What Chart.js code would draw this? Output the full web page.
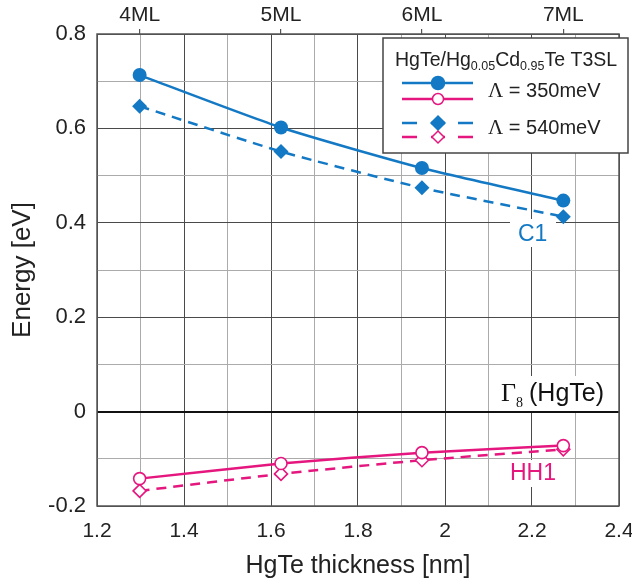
<!DOCTYPE html>
<html>
<head>
<meta charset="utf-8">
<script src="https://cdn.jsdelivr.net/npm/chart.js@4.4.1/dist/chart.umd.min.js"></script>
<style>
  html, body { margin: 0; padding: 0; background: #fff; }
  #wrap { width: 632px; height: 586px; }
</style>
</head>
<body>
<div id="wrap"><canvas id="chart" width="632" height="586"></canvas></div>
<script>
// HgTe layer thickness (nm) and matching monolayer labels on the top axis
const thicknessNm = [1.298, 1.623, 1.947, 2.272];
const mlLabels = ["4ML", "5ML", "6ML", "7ML"];

// subband energies (eV)
const c1Lambda350 = [0.713, 0.602, 0.516, 0.447];
const c1Lambda540 = [0.647, 0.551, 0.474, 0.413];
const hh1Lambda350 = [-0.142, -0.110, -0.087, -0.072];
const hh1Lambda540 = [-0.168, -0.132, -0.103, -0.080];

const BLUE = "#1479c4";
const PINK = "#e5177f";
const SANS = "'Liberation Sans', Arial, sans-serif";
const SERIF = "'Liberation Serif', 'Times New Roman', serif";

const pts = (ys) => thicknessNm.map((x, i) => ({ x: x, y: ys[i] }));

function gridStyle(step) {
  return {
    color: (c) => {
      const k = Math.round(c.tick.value / step);
      if (Math.abs(c.tick.value) < 1e-9) return "#111";
      return k % 2 === 0 ? "#4a4a4a" : "#ababab";
    },
    lineWidth: (c) => (Math.abs(c.tick.value) < 1e-9 ? 2 : 1),
  };
}

// draws a run of text pieces [text, font, dy] left to right
function drawRun(ctx, x, y, parts) {
  parts.forEach(([t, font, dy]) => {
    ctx.font = font;
    ctx.fillText(t, x, y + (dy || 0));
    x += ctx.measureText(t).width;
  });
  return x;
}

const annotations = {
  id: "annotations",
  beforeDatasetsDraw(chart) {
    const { ctx, chartArea: a } = chart;
    ctx.save();
    // plot frame
    ctx.strokeStyle = "#555";
    ctx.lineWidth = 1.5;
    ctx.strokeRect(a.left, a.top, a.right - a.left, a.bottom - a.top);

    ctx.textBaseline = "alphabetic";
    // C1
    ctx.fillStyle = "#fff";
    ctx.fillRect(510, 219, 46, 28);
    ctx.fillStyle = BLUE;
    ctx.font = "23px " + SANS;
    ctx.fillText("C1", 518, 241);
    // HH1
    ctx.fillStyle = "#fff";
    ctx.fillRect(505, 460, 58, 27);
    ctx.fillStyle = PINK;
    ctx.fillText("HH1", 510, 480);
    // Gamma8 (HgTe)
    ctx.fillStyle = "#fff";
    ctx.fillRect(497, 376, 117, 35);
    ctx.fillStyle = "#111";
    ctx.font = "26px " + SERIF;
    ctx.fillText("\u0393", 501, 401);
    ctx.font = "14px " + SERIF;
    ctx.fillText("8", 516, 407);
    ctx.font = "25px " + SANS;
    ctx.fillText("(HgTe)", 529, 401);
    ctx.restore();
  },
  afterDraw(chart) {
    const ctx = chart.ctx;
    ctx.save();
    // legend box
    ctx.fillStyle = "#fff";
    ctx.fillRect(383, 38, 245, 115);
    ctx.strokeStyle = "#444";
    ctx.lineWidth = 1.5;
    ctx.strokeRect(383, 38, 245, 115);

    ctx.fillStyle = "#222";
    ctx.textBaseline = "alphabetic";
    drawRun(ctx, 395, 66, [
      ["HgTe/Hg", "19.5px " + SANS, 0],
      ["0.05", "12.5px " + SANS, 4],
      ["Cd", "19.5px " + SANS, 0],
      ["0.95", "12.5px " + SANS, 4],
      ["Te T3SL", "19.5px " + SANS, 0],
    ]);

    const seg = (y, color, dashed) => {
      ctx.strokeStyle = color;
      ctx.lineWidth = 2.5;
      ctx.beginPath();
      if (dashed) {
        [[402, 417], [431, 445], [458, 473]].forEach(([a, b]) => {
          ctx.moveTo(a, y); ctx.lineTo(b, y);
        });
      } else {
        ctx.moveTo(402, y); ctx.lineTo(473, y);
      }
      ctx.stroke();
    };
    const marker = (y, color, style, filled) => {
      ctx.fillStyle = filled ? color : "#fff";
      ctx.strokeStyle = color;
      ctx.lineWidth = 1.5;
      ctx.beginPath();
      if (style === "circle") {
        ctx.arc(438, y, filled ? 6.5 : 5.5, 0, Math.PI * 2);
      } else {
        const r = filled ? 7 : 6;
        ctx.moveTo(438, y - r); ctx.lineTo(438 + r, y);
        ctx.lineTo(438, y + r); ctx.lineTo(438 - r, y); ctx.closePath();
      }
      ctx.fill();
      ctx.stroke();
    };
    seg(83, BLUE, false); marker(83, BLUE, "circle", true);
    seg(99, PINK, false); marker(99, PINK, "circle", false);
    seg(123, BLUE, true); marker(123, BLUE, "diamond", true);
    seg(137, PINK, true); marker(137, PINK, "diamond", false);

    ctx.fillStyle = "#222";
    drawRun(ctx, 488, 97, [["\u039b", "21px " + SERIF, 0], [" = 350meV", "20px " + SANS, 0]]);
    drawRun(ctx, 488, 134, [["\u039b", "21px " + SERIF, 0], [" = 540meV", "20px " + SANS, 0]]);
    ctx.restore();
  },
};

const noSidePad = (s) => { s.paddingLeft = 0; s.paddingRight = 0; };

new Chart(document.getElementById("chart"), {
  type: "line",
  data: {
    datasets: [
      {
        label: "C1 350meV", data: pts(c1Lambda350),
        borderColor: BLUE, backgroundColor: BLUE, borderWidth: 2.5, tension: 0.2,
        pointStyle: "circle", pointRadius: 7, pointBorderWidth: 0,
      },
      {
        label: "C1 540meV", data: pts(c1Lambda540),
        borderColor: BLUE, backgroundColor: BLUE, borderWidth: 2.5, tension: 0.2,
        borderDash: [10, 7],
        pointStyle: "rectRot", pointRadius: 7.5, pointBorderWidth: 0,
      },
      {
        label: "HH1 350meV", data: pts(hh1Lambda350),
        borderColor: PINK, backgroundColor: "#fff", borderWidth: 2.5, tension: 0.2,
        pointStyle: "circle", pointRadius: 6, pointBorderWidth: 1.6,
      },
      {
        label: "HH1 540meV", data: pts(hh1Lambda540),
        borderColor: PINK, backgroundColor: "#fff", borderWidth: 2.5, tension: 0.2,
        borderDash: [10, 7],
        pointStyle: "rectRot", pointRadius: 6.5, pointBorderWidth: 1.6,
      },
    ],
  },
  options: {
    responsive: false,
    animation: false,
    layout: { padding: { top: 0, right: 13, bottom: 0, left: 0 } },
    plugins: { legend: { display: false }, tooltip: { enabled: false } },
    scales: {
      x: {
        type: "linear", position: "bottom", min: 1.2, max: 2.4,
        ticks: {
          stepSize: 0.1, maxRotation: 0, autoSkip: false, padding: 13,
          color: "#222", font: { family: SANS, size: 21 },
          callback: (v) => (Math.round(v * 10) % 2 === 0 ? String(+v.toFixed(1)) : ""),
        },
        grid: { drawTicks: false, ...gridStyle(0.1) },
        border: { display: false },
        title: {
          display: true, text: "HgTe thickness [nm]", color: "#222",
          font: { family: SANS, size: 25 }, padding: { bottom: 5 },
        },
        afterFit: (s) => { s.height = 80; noSidePad(s); },
      },
      x2: {
        type: "linear", position: "top", min: 1.2, max: 2.4,
        afterBuildTicks: (s) => { s.ticks = thicknessNm.map((v) => ({ value: v })); },
        ticks: {
          autoSkip: false, maxRotation: 0, padding: 1,
          color: "#222", font: { family: SANS, size: 21 },
          callback: (v, i) => mlLabels[i],
        },
        grid: { drawOnChartArea: false, tickLength: 5, color: "#555", lineWidth: 1.2 },
        border: { display: false },
        afterFit: (s) => { s.height = 34; noSidePad(s); },
      },
      y: {
        type: "linear", min: -0.2, max: 0.8,
        ticks: {
          stepSize: 0.1, padding: 11, color: "#222", font: { family: SANS, size: 22 },
          callback: (v) => {
            const k = Math.round(v * 10);
            return k % 2 === 0 ? String(k / 10) : "";
          },
        },
        grid: { drawTicks: false, ...gridStyle(0.1) },
        border: { display: false },
        title: {
          display: true, text: "Energy [eV]", color: "#222",
          font: { family: SANS, size: 26 }, padding: { top: 7 },
        },
        afterFit: (s) => { s.width = 97; },
      },
    },
  },
  plugins: [annotations],
});
</script>
</body>
</html>
